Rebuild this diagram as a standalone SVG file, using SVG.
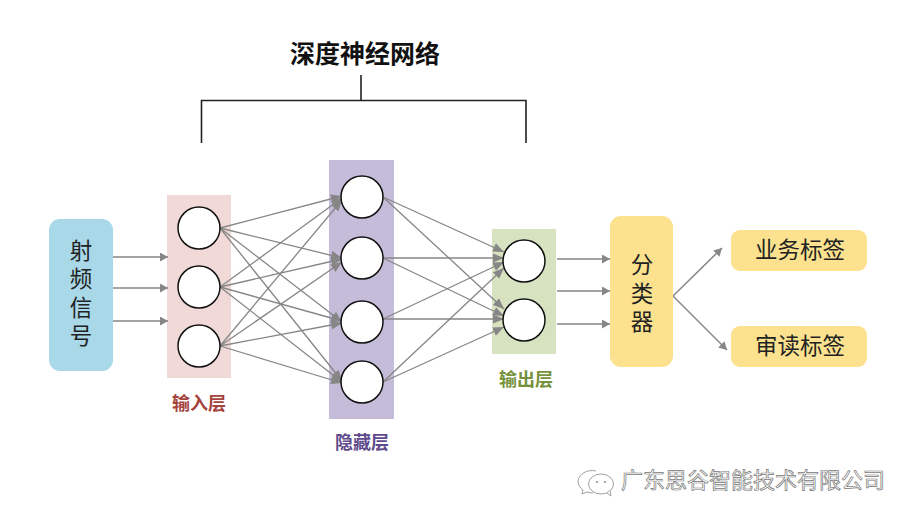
<svg xmlns="http://www.w3.org/2000/svg" width="914" height="520" viewBox="0 0 914 520">
<style>
text{font-family:"Noto Sans CJK SC","Liberation Sans",sans-serif;text-anchor:middle}
.node{fill:#fff;stroke:#111;stroke-width:1.5}
.label{font-size:22.500px;fill:#222}
.upright{writing-mode:vertical-rl;letter-spacing:6px}
.layer{font-size:18px;font-weight:700}
.link{stroke:#868686;stroke-width:1.3;fill:none;marker-end:url(#tip)}
.flow{stroke:#868686;stroke-width:1.5;fill:none;marker-end:url(#tipL)}
.mark{font-size:22px;fill:#fff;stroke:#777;stroke-width:.7;text-anchor:start}
</style>
<defs>
<marker id="tip" markerUnits="userSpaceOnUse" markerWidth="12" markerHeight="10" refX="11" refY="5" orient="auto"><path d="M0 0.500L11 5L0 9.500z" fill="#868686"/></marker>
<marker id="tipL" markerUnits="userSpaceOnUse" markerWidth="10" markerHeight="10" refX="8" refY="4.500" orient="auto"><path d="M0 0L8 4.500L0 9z" fill="#868686"/></marker>
</defs>
<rect width="914" height="520" fill="#fff"/>

<g id="title"><text x="365" y="63" font-size="25" font-weight="700" fill="#111">深度神经网络</text></g>
<g id="bracket" fill="none" stroke="#222" stroke-width="1.6"><path d="M201.500 143V100.500H526V143M361 100.500V75"/></g>

<g id="signal"><rect x="49" y="219" width="64" height="152" rx="11" fill="#a9d8e8"/>
<text class="label upright" x="81" y="296">射频信号</text></g>

<g id="input-band"><rect x="167" y="195" width="64" height="183" fill="#f0d9d6"/></g>
<g id="hidden-band"><rect x="329" y="160" width="65" height="259" fill="#c5bcd9"/></g>
<g id="output-band"><rect x="492" y="229" width="64" height="125" fill="#d6e2c0"/></g>

<g id="connectors">
<path class="flow" d="M113 257H168"/><path class="flow" d="M113 288H168"/><path class="flow" d="M113 321H168"/>
<path class="flow" d="M557 259H610"/><path class="flow" d="M557 291H610"/><path class="flow" d="M557 324H610"/>
<path class="flow" d="M673 296L722 248"/><path class="flow" d="M673 296L727 350"/>
<path class="link" d="M220 228L342 196"/><path class="link" d="M220 228L342 258"/><path class="link" d="M220 228L342 322"/><path class="link" d="M220 228L342 381"/>
<path class="link" d="M220 287L342 198"/><path class="link" d="M220 287L342 259"/><path class="link" d="M220 287L342 321"/><path class="link" d="M220 287L342 382"/>
<path class="link" d="M220 346L342 200"/><path class="link" d="M220 346L342 262"/><path class="link" d="M220 346L342 323"/><path class="link" d="M220 346L342 383"/>
<path class="link" d="M383 197L504 252"/><path class="link" d="M383 197L504 309"/>
<path class="link" d="M383 258H504"/><path class="link" d="M383 258L504 316"/>
<path class="link" d="M383 319L504 262"/><path class="link" d="M383 319H504"/>
<path class="link" d="M383 382L504 268"/><path class="link" d="M383 382L504 327"/>
</g>

<g id="in-1"><circle class="node" cx="199" cy="228" r="21"/></g>
<g id="in-2"><circle class="node" cx="199" cy="287" r="21"/></g>
<g id="in-3"><circle class="node" cx="199" cy="346" r="21"/></g>
<g id="hid-1"><circle class="node" cx="362" cy="197" r="21"/></g>
<g id="hid-2"><circle class="node" cx="362" cy="258" r="21"/></g>
<g id="hid-3"><circle class="node" cx="362" cy="322" r="21"/></g>
<g id="hid-4"><circle class="node" cx="362" cy="382" r="21"/></g>
<g id="out-1"><circle class="node" cx="524" cy="261" r="21"/></g>
<g id="out-2"><circle class="node" cx="524" cy="320" r="21"/></g>

<g id="input-label"><text class="layer" x="199" y="410" fill="#a5443c">输入层</text></g>
<g id="hidden-label"><text class="layer" x="362" y="449" fill="#5f4b8b">隐藏层</text></g>
<g id="output-label"><text class="layer" x="526" y="386" fill="#76923c">输出层</text></g>

<g id="classifier"><rect x="610" y="216" width="63" height="151" rx="11" fill="#fce28e"/>
<text class="label upright" x="642" y="296">分类器</text></g>
<g id="business-tag"><rect x="731" y="230" width="136" height="41" rx="9" fill="#fce28e"/><text class="label" x="800" y="258">业务标签</text></g>
<g id="review-tag"><rect x="731" y="326" width="136" height="41" rx="9" fill="#fce28e"/><text class="label" x="800" y="354">审读标签</text></g>

<g id="watermark">
<path d="M596 471C587 469 579 474 578 481C578 485 580 488 583 490L582 494L587 492C589 492.500 591 493 593 493" fill="#fff" stroke="#888" stroke-width=".8"/>
<ellipse cx="601" cy="484" rx="12.500" ry="10" fill="#fff" stroke="#888" stroke-width=".8"/>
<path d="M607 493L611 496L610 491" fill="#fff" stroke="#888" stroke-width=".8"/>
<circle cx="597" cy="482" r="1" fill="#888"/><circle cx="605" cy="482" r="1" fill="#888"/>
<text class="mark" x="621" y="488">广东思谷智能技术有限公司</text>
</g>
</svg>
